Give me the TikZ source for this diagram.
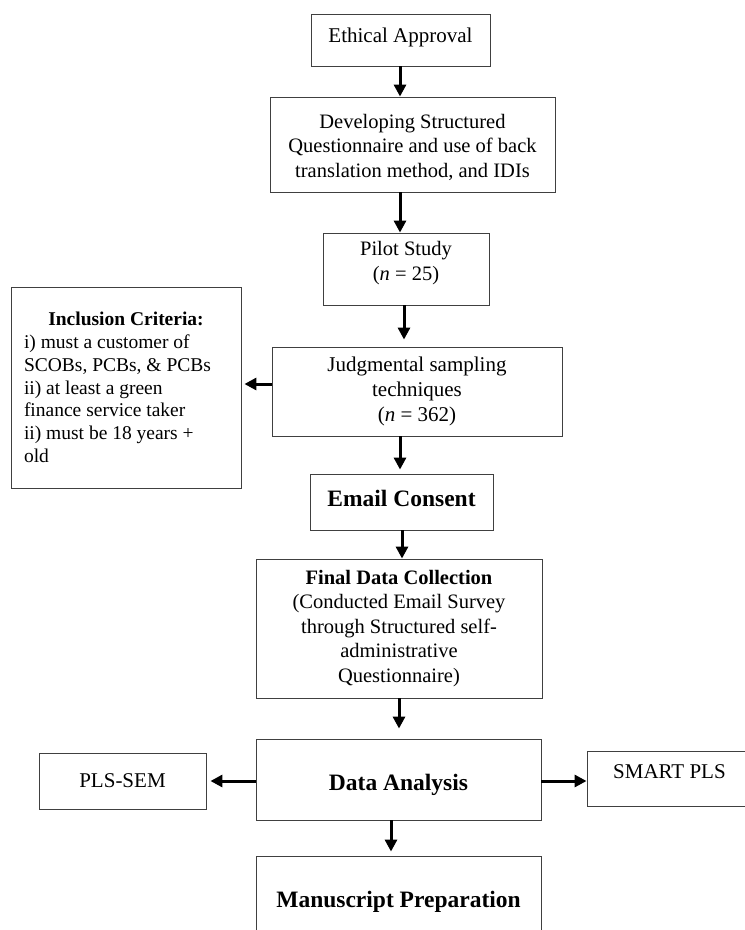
\documentclass[tikz,border=0pt]{standalone}
\usepackage{fontspec}
\setmainfont{Liberation Serif}
\usetikzlibrary{arrows.meta,calc}
\begin{document}
\begin{tikzpicture}[x=1pt,y=-1pt,
  box/.style={draw=black!75, line width=0.9pt, align=center, inner sep=0pt,
    font=\fontsize{20.5}{24.5}\selectfont},
  bigbold/.style={font=\fontsize{23.5}{27}\selectfont\bfseries},
  arr/.style={line width=3pt, -{Triangle[length=12pt,width=12pt]}}]
\useasboundingbox (0,0) rectangle (745,930);
% nodes
\node[box, font=\fontsize{21}{25}\selectfont, minimum width=179pt, minimum height=52pt] (eth) at (400.5,40)
  {Ethical Approval\rule[-9pt]{0pt}{9pt}};
\node[box, minimum width=285pt, minimum height=95pt] (dev) at (412.5,144.5)
  {\rule{0pt}{20pt}Developing Structured\\Questionnaire and use of back\\translation method, and IDIs};
\node[box, minimum width=166pt, minimum height=72pt] (pil) at (406,269)
  {Pilot Study\\(\textit{n} = 25)\rule[-16pt]{0pt}{16pt}};
\node[box, minimum width=230pt, minimum height=201pt, align=flush left,
  text width=204pt, font=\fontsize{19.5}{22.8}\selectfont] (inc) at (126,387.5)
  {\makebox[204pt][c]{\textbf{Inclusion Criteria:}}\\
   i) must a customer of\\
   SCOBs, PCBs, \& PCBs\\
   ii) at least a green\\
   finance service taker\\
   ii) must be 18 years +\\
   old};
\node[box, font=\fontsize{21}{24.8}\selectfont, minimum width=290pt, minimum height=89pt] (jud) at (417,391.5)
  {Judgmental sampling\\techniques\\(\textit{n} = 362)};
\node[box, bigbold, minimum width=183pt, minimum height=56pt] (ema) at (401.5,502)
  {Email Consent\rule[-8pt]{0pt}{8pt}};
\node[box, minimum width=286pt, minimum height=139pt] (fin) at (399,628.5)
  {\textbf{Final Data Collection}\\(Conducted Email Survey\\through Structured self-\\administrative\\Questionnaire)};
\node[box, bigbold, minimum width=285pt, minimum height=81pt] (dat) at (398.5,779.5)
  {\rule{0pt}{27pt}Data Analysis};
\node[box, font=\fontsize{21}{25}\selectfont, minimum width=167pt, minimum height=56pt] (pls) at (122.5,781)
  {PLS-SEM};
\node[box, font=\fontsize{21}{25}\selectfont, minimum width=165pt, minimum height=55pt] (sma) at (669.5,778.5)
  {SMART PLS\rule[-14pt]{0pt}{14pt}};
\node[box, bigbold, minimum width=285pt, minimum height=92pt] (man) at (398.5,902)
  {Manuscript Preparation};
% helper coordinates for connector lines
\coordinate (c400) at (400,0);
\coordinate (c404) at (404,0);
\coordinate (c402) at (402,0);
\coordinate (c399) at (399,0);
\coordinate (c391) at (391,0);
\coordinate (r384) at (0,384);
\coordinate (r781) at (0,781);
% connectors
\draw[arr] (eth.south -| c400) -- (dev.north -| c400);
\draw[arr] (dev.south -| c400) -- (pil.north -| c400);
\draw[arr, shorten >=7pt] (pil.south -| c404) -- (jud.north -| c404);
\draw[arr, shorten >=3pt] (jud.west |- r384) -- (inc.east |- r384);
\draw[arr, shorten >=4pt] (jud.south -| c400) -- (ema.north -| c400);
\draw[arr] (ema.south -| c402) -- (fin.north -| c402);
\draw[arr, shorten >=10pt] (fin.south -| c399) -- (dat.north -| c399);
\draw[arr, shorten >=4pt] (dat.west |- r781) -- (pls.east |- r781);
\draw[arr] (dat.east |- r781) -- (sma.west |- r781);
\draw[arr, shorten >=4pt] (dat.south -| c391) -- (man.north -| c391);
\end{tikzpicture}
\end{document}
